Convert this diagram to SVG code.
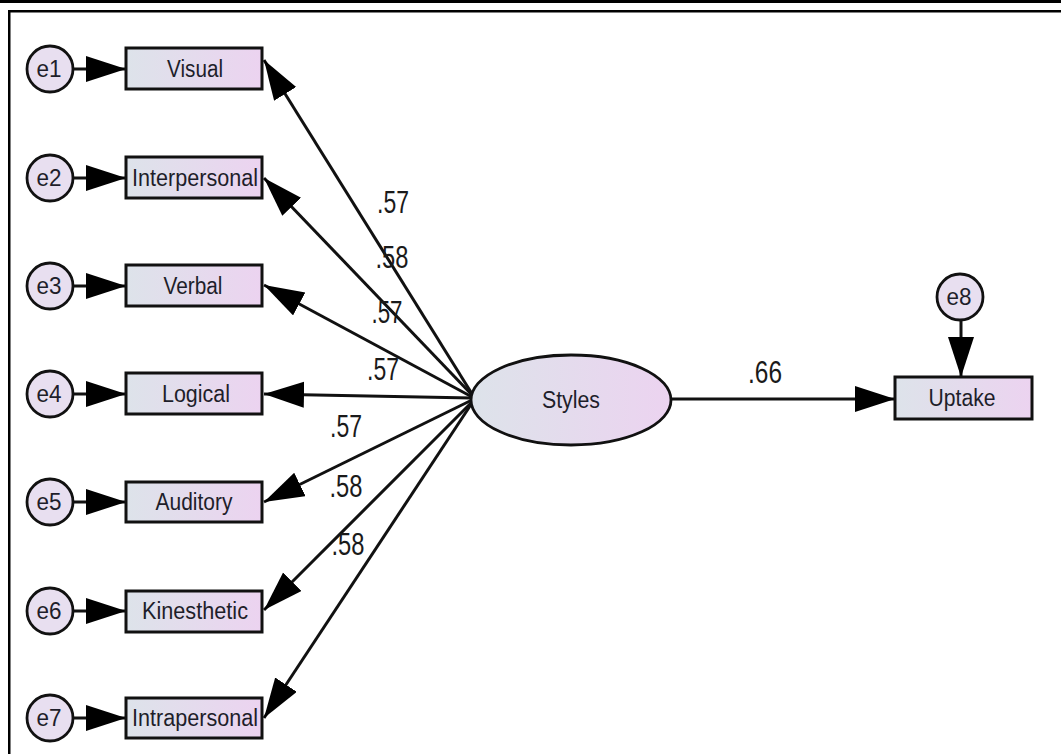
<svg xmlns="http://www.w3.org/2000/svg" width="1061" height="754" viewBox="0 0 1061 754">
<style>
.box{stroke:#111;stroke-width:3;fill:url(#gb)}
.err{stroke:#111;stroke-width:2.8;fill:#e8dff0}
.lat{stroke:#111;stroke-width:2.8;fill:url(#gb)}
.t{font-family:"Liberation Sans Narrow","Liberation Sans",Arial,sans-serif;font-size:23px;fill:#1e1e2a;text-anchor:middle}
.w{font-family:"Liberation Sans Narrow","Liberation Sans",Arial,sans-serif;font-size:31px;fill:#1a1a1a;text-anchor:middle}
.c{stroke:#111;stroke-width:3;fill:none;marker-end:url(#ah)}
</style>
<defs>
<linearGradient id="gb" x1="0" y1="0" x2="1" y2="0">
<stop offset="0" stop-color="#dde3ea"/>
<stop offset="1" stop-color="#ecd3f0"/>
</linearGradient>
<marker id="ah" markerUnits="userSpaceOnUse" markerWidth="42" markerHeight="28" refX="40" refY="13" orient="auto">
<path d="M0,0 L40,13 L0,26 z" fill="#000"/>
</marker>
</defs>
<rect width="1061" height="754" fill="#fff"/>
<g id="frame">
<rect x="0" y="0" width="1061" height="3" fill="#000"/>
<rect x="8" y="10" width="1053" height="2.5" fill="#000"/>
<rect x="8" y="10" width="2.5" height="744" fill="#000"/>
</g>
<g id="connectors">
<line class="c" x1="73" y1="69" x2="126" y2="69"/>
<line class="c" x1="73" y1="178" x2="126" y2="178"/>
<line class="c" x1="73" y1="286" x2="126" y2="286"/>
<line class="c" x1="73" y1="394" x2="126" y2="394"/>
<line class="c" x1="73" y1="502" x2="126" y2="502"/>
<line class="c" x1="73" y1="611" x2="126" y2="611"/>
<line class="c" x1="73" y1="718" x2="126" y2="718"/>
<line class="c" x1="474" y1="397" x2="264" y2="60"/>
<line class="c" x1="474" y1="397" x2="264" y2="178"/>
<line class="c" x1="474" y1="398" x2="264" y2="285"/>
<line class="c" x1="472" y1="398" x2="264" y2="394"/>
<line class="c" x1="474" y1="399" x2="264" y2="502"/>
<line class="c" x1="474" y1="400" x2="264" y2="610"/>
<line class="c" x1="474" y1="400" x2="264" y2="718"/>
<line class="c" x1="672" y1="399" x2="895" y2="399"/>
<line class="c" x1="961" y1="320" x2="961" y2="377"/>
</g>
<g id="labels">
<text class="w" x="393" y="213" textLength="32" lengthAdjust="spacingAndGlyphs">.57</text>
<text class="w" x="392" y="268" textLength="33" lengthAdjust="spacingAndGlyphs">.58</text>
<text class="w" x="387" y="323" textLength="31" lengthAdjust="spacingAndGlyphs">.57</text>
<text class="w" x="383" y="380" textLength="32" lengthAdjust="spacingAndGlyphs">.57</text>
<text class="w" x="346" y="437" textLength="32" lengthAdjust="spacingAndGlyphs">.57</text>
<text class="w" x="346" y="497" textLength="33" lengthAdjust="spacingAndGlyphs">.58</text>
<text class="w" x="348" y="555" textLength="33" lengthAdjust="spacingAndGlyphs">.58</text>
<text class="w" x="765" y="383" textLength="34" lengthAdjust="spacingAndGlyphs">.66</text>
</g>
<g id="e1"><circle class="err" cx="50" cy="69" r="23"/><text class="t" x="49" y="77" textLength="25" lengthAdjust="spacingAndGlyphs">e1</text></g>
<g id="e2"><circle class="err" cx="50" cy="178" r="23"/><text class="t" x="49" y="186" textLength="25" lengthAdjust="spacingAndGlyphs">e2</text></g>
<g id="e3"><circle class="err" cx="50" cy="286" r="23"/><text class="t" x="49" y="294" textLength="25" lengthAdjust="spacingAndGlyphs">e3</text></g>
<g id="e4"><circle class="err" cx="50" cy="394" r="23"/><text class="t" x="49" y="402" textLength="25" lengthAdjust="spacingAndGlyphs">e4</text></g>
<g id="e5"><circle class="err" cx="50" cy="502" r="23"/><text class="t" x="49" y="510" textLength="25" lengthAdjust="spacingAndGlyphs">e5</text></g>
<g id="e6"><circle class="err" cx="50" cy="611" r="23"/><text class="t" x="49" y="619" textLength="25" lengthAdjust="spacingAndGlyphs">e6</text></g>
<g id="e7"><circle class="err" cx="50" cy="718" r="23"/><text class="t" x="49" y="726" textLength="25" lengthAdjust="spacingAndGlyphs">e7</text></g>
<g id="e8"><circle class="err" cx="960" cy="297" r="23"/><text class="t" x="959" y="305" textLength="25" lengthAdjust="spacingAndGlyphs">e8</text></g>
<g id="visual"><rect class="box" x="126" y="48" width="136" height="41"/><text class="t" x="195" y="77" textLength="56" lengthAdjust="spacingAndGlyphs">Visual</text></g>
<g id="interpersonal"><rect class="box" x="126" y="157" width="136" height="41"/><text class="t" x="195" y="186" textLength="126" lengthAdjust="spacingAndGlyphs">Interpersonal</text></g>
<g id="verbal"><rect class="box" x="126" y="265" width="136" height="41"/><text class="t" x="193" y="294" textLength="59" lengthAdjust="spacingAndGlyphs">Verbal</text></g>
<g id="logical"><rect class="box" x="126" y="373" width="136" height="41"/><text class="t" x="196" y="402" textLength="68" lengthAdjust="spacingAndGlyphs">Logical</text></g>
<g id="auditory"><rect class="box" x="126" y="482" width="136" height="40"/><text class="t" x="194" y="510" textLength="77" lengthAdjust="spacingAndGlyphs">Auditory</text></g>
<g id="kinesthetic"><rect class="box" x="126" y="591" width="136" height="41"/><text class="t" x="195" y="619" textLength="106" lengthAdjust="spacingAndGlyphs">Kinesthetic</text></g>
<g id="intrapersonal"><rect class="box" x="126" y="698" width="136" height="40"/><text class="t" x="195" y="726" textLength="126" lengthAdjust="spacingAndGlyphs">Intrapersonal</text></g>
<g id="styles"><ellipse class="lat" cx="571" cy="400" rx="100" ry="45"/><text class="t" x="571" y="408" textLength="58" lengthAdjust="spacingAndGlyphs">Styles</text></g>
<g id="uptake"><rect class="box" x="895" y="377" width="137" height="42"/><text class="t" x="962" y="406" textLength="67" lengthAdjust="spacingAndGlyphs">Uptake</text></g>
</svg>
